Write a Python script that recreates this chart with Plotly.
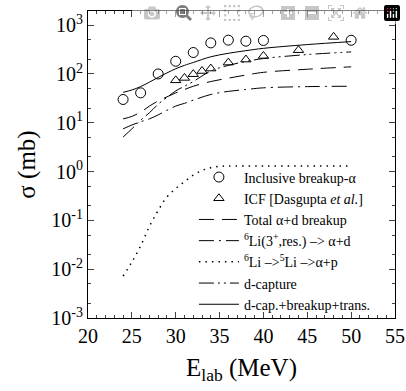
import plotly.graph_objects as go

# Experimental data
e_incl = [24, 26, 28, 30, 32, 34, 36, 38, 40, 50]
s_incl = [30, 41, 100, 182, 275, 433, 493, 470, 485, 490]

e_icf = [30, 31, 32, 33, 34, 36, 38, 40, 44, 48]
s_icf = [74, 83, 99, 115, 129, 171, 197, 234, 307, 575]

# Calculations
e_calc = [24, 25, 26, 27, 28, 29, 30, 31, 32, 34, 36, 38, 40, 45, 50]
s_total_bu = [12, 13.5, 16.5, 22, 28, 34, 41, 48, 56, 70, 82, 95, 108, 125, 140]
s_res = [7.5, 9, 10.5, 12, 14.5, 18, 22, 25, 29, 38, 44, 48, 52, 55, 56]
s_dcap = [5.1, 7.5, 11.3, 16, 24, 33, 45, 56, 70, 115, 150, 180, 207, 250, 283]
s_sum = [42, 47, 55, 68, 85, 105, 128, 150, 172, 225, 265, 300, 335, 400, 460]

e_li5 = [24, 25, 26, 27, 28, 29, 30, 31, 32, 33, 34, 35, 36, 40, 45, 50]
s_li5 = [0.0072, 0.014, 0.03, 0.075, 0.16, 0.3, 0.45, 0.62, 0.85, 1.05, 1.2, 1.28, 1.3, 1.3, 1.3, 1.3]

y_tickvals = [1e-3, 1e-2, 1e-1, 1, 10, 100, 1000]
y_ticktext = ["10<sup>-3</sup>", "10<sup>-2</sup>", "10<sup>-1</sup>", "10<sup>0</sup>",
              "10<sup>1</sup>", "10<sup>2</sup>", "10<sup>3</sup>"]
x_tickvals = [20, 25, 30, 35, 40, 45, 50, 55]

FONT = "Liberation Serif"

fig = go.Figure()
fig.add_trace(go.Scatter(x=e_incl, y=s_incl, mode="markers", name="Inclusive breakup-α", legendgroup="a",
                         marker=dict(symbol="circle-open", size=10, color="black", line=dict(width=1))))
fig.add_trace(go.Scatter(x=e_icf, y=s_icf, mode="markers", name="ICF [Dasgupta <i>et al.</i>]", legendgroup="b",
                         marker=dict(symbol="triangle-up-open", size=9, color="black", line=dict(width=1))))
fig.add_trace(go.Scatter(x=e_calc, y=s_total_bu, mode="lines", name="Total α+d breakup", legendgroup="c",
                         line=dict(color="black", width=1, dash="15px,8px", shape="spline")))
fig.add_trace(go.Scatter(x=e_calc, y=s_res, mode="lines", name="<sup>6</sup>Li(3<sup>+</sup>,res.) –> α+d",
                         legendgroup="d",
                         line=dict(color="black", width=1, dash="15px,5px,2px,5px", shape="spline")))
fig.add_trace(go.Scatter(x=e_li5, y=s_li5, mode="lines", name="<sup>6</sup>Li –><sup>5</sup>Li –>α+p",
                         legendgroup="e",
                         line=dict(color="black", width=1.5, dash="1.5px,5px", shape="spline")))
fig.add_trace(go.Scatter(x=e_calc, y=s_dcap, mode="lines", name="d-capture", legendgroup="f",
                         line=dict(color="black", width=1, dash="15px,4px,2px,4px,2px,4px", shape="spline")))
fig.add_trace(go.Scatter(x=e_calc, y=s_sum, mode="lines", name="d-cap.+breakup+trans.", legendgroup="g",
                         line=dict(color="black", width=1, shape="spline")))

fig.update_layout(
    width=406, height=391,
    margin=dict(l=88, r=11, t=11, b=73, autoexpand=False),
    paper_bgcolor="white", plot_bgcolor="white",
    font=dict(family=FONT, color="black"),
    showlegend=True,
    legend=dict(x=0.345, xanchor="left", y=-0.008, yanchor="bottom",
                bgcolor="rgba(0,0,0,0)", font=dict(size=14, family=FONT),
                tracegroupgap=0, itemwidth=40),
    xaxis=dict(range=[20, 55], tickvals=x_tickvals, ticks="inside", ticklen=6,
               showline=True, linecolor="black", linewidth=1, mirror="allticks",
               showgrid=False, zeroline=False, automargin=False,
               tickfont=dict(size=20, family=FONT),
               minor=dict(dtick=1, ticks="inside", ticklen=3, showgrid=False),
               title=dict(text="E<sub>lab</sub> (MeV)", font=dict(size=25, family=FONT), standoff=12)),
    yaxis=dict(type="log", range=[-3, 3.29], tickvals=y_tickvals, ticktext=y_ticktext,
               ticks="inside", ticklen=6,
               showline=True, linecolor="black", linewidth=1, mirror="allticks",
               showgrid=False, zeroline=False, automargin=False,
               tickfont=dict(size=20, family=FONT),
               minor=dict(ticks="inside", ticklen=3, showgrid=False),
               title=dict(text="σ (mb)", font=dict(size=25, family=FONT), standoff=8)),
)

fig.write_html("out.html",
               post_script="document.body.style.margin='0';document.body.style.overflow='hidden';")
